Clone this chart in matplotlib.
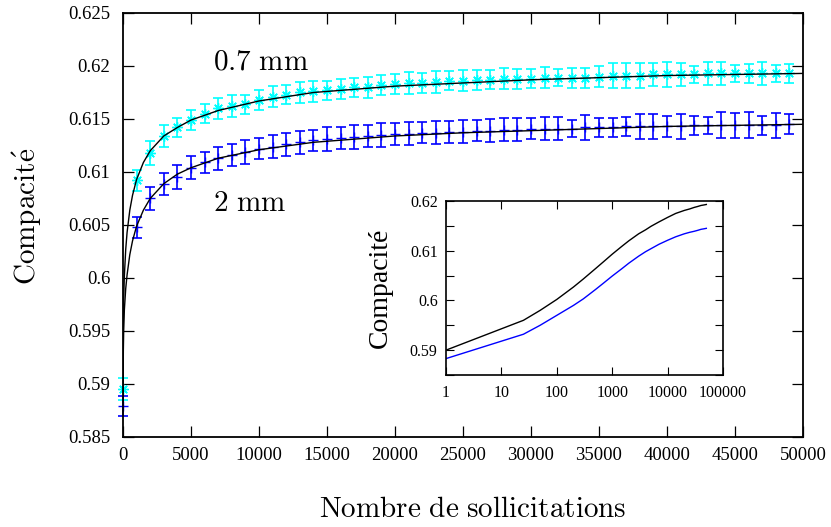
import numpy as np
import matplotlib
matplotlib.use('Agg')
import matplotlib.pyplot as plt
from matplotlib.ticker import FixedLocator, FuncFormatter, LogLocator, NullFormatter

plt.rcParams['font.family'] = ['Liberation Serif', 'DejaVu Serif']
plt.rcParams['mathtext.fontset'] = 'cm'

# Mesures (compacité moyenne + barres d'erreur), un point tous les 1000 cycles
cycles = np.arange(0, 50000, 1000)

comp_07 = [0.5895, 0.6092, 0.6118, 0.6134, 0.6142, 0.6149, 0.6155, 0.6160, 0.6162, 0.6164,
           0.6168, 0.6171, 0.6173, 0.6175, 0.6176, 0.6177, 0.6178, 0.6180, 0.6180, 0.6182,
           0.6183, 0.6184, 0.6184, 0.6185, 0.6186, 0.6186, 0.6187, 0.6187, 0.6188, 0.6188,
           0.6188, 0.6189, 0.6189, 0.6189, 0.6189, 0.6190, 0.6191, 0.6191, 0.6191, 0.6192,
           0.6192, 0.6192, 0.6192, 0.6193, 0.6193, 0.6193, 0.6193, 0.6193, 0.6193, 0.6193]
err_07 = [0.00105, 0.00100, 0.00110, 0.00100, 0.00090, 0.00095, 0.00090, 0.00100, 0.00105, 0.00090,
          0.00095, 0.00100, 0.00090, 0.00095, 0.00100, 0.00090, 0.00095, 0.00090, 0.00100, 0.00095,
          0.00090, 0.00100, 0.00095, 0.00105, 0.00090, 0.00100, 0.00095, 0.00090, 0.00100, 0.00095,
          0.00090, 0.00100, 0.00082, 0.00094, 0.00094, 0.00101, 0.00115, 0.00118, 0.00115, 0.00106,
          0.00118, 0.00104, 0.00082, 0.00107, 0.00110, 0.00082, 0.00087, 0.00106, 0.00083, 0.00087]

comp_2 = [0.5879, 0.6048, 0.6075, 0.6089, 0.6095, 0.6104, 0.6109, 0.6113, 0.6116, 0.6119,
          0.6122, 0.6124, 0.6126, 0.6128, 0.6130, 0.6131, 0.6132, 0.6133, 0.6134, 0.6135,
          0.6136, 0.6136, 0.6137, 0.6137, 0.6138, 0.6138, 0.6139, 0.6139, 0.6140, 0.6140,
          0.6141, 0.6141, 0.6141, 0.6141, 0.6142, 0.6142, 0.6142, 0.6143, 0.6143, 0.6143,
          0.6143, 0.6143, 0.6144, 0.6144, 0.6144, 0.6144, 0.6144, 0.6144, 0.6144, 0.6145]
err_2 = [0.00095, 0.00100, 0.00110, 0.00105, 0.00115, 0.00110, 0.00100, 0.00110, 0.00105, 0.00110,
         0.00100, 0.00110, 0.00105, 0.00110, 0.00100, 0.00110, 0.00105, 0.00110, 0.00100, 0.00115,
         0.00105, 0.00110, 0.00100, 0.00110, 0.00105, 0.00110, 0.00100, 0.00110, 0.00105, 0.00110,
         0.00100, 0.00105, 0.00110, 0.00083, 0.00115, 0.00094, 0.00090, 0.00090, 0.00121, 0.00116,
         0.00097, 0.00116, 0.00087, 0.00080, 0.00123, 0.00115, 0.00123, 0.00087, 0.00115, 0.00094]

# Courbes d'ajustement
fit_x = [1, 25, 50, 100, 200, 300, 500, 700, 1000, 1500, 2000, 3000, 4000, 5000, 7000,
         10000, 14000, 20000, 25000, 30000, 35000, 40000, 45000, 50000]
fit_07 = [0.5900, 0.5960, 0.5980, 0.6002, 0.6027, 0.6043, 0.6064, 0.6078, 0.6093, 0.6109,
          0.6120, 0.6134, 0.6142, 0.6149, 0.6158, 0.6167, 0.6175, 0.6181, 0.6184, 0.6187,
          0.6189, 0.6191, 0.6192, 0.6193]
fit_2 = [0.5883, 0.5932, 0.5950, 0.5970, 0.5990, 0.6003, 0.6022, 0.6035, 0.6049, 0.6064,
         0.6075, 0.6089, 0.6098, 0.6104, 0.6113, 0.6121, 0.6128, 0.6134, 0.6137, 0.6139,
         0.6141, 0.6143, 0.6144, 0.6145]

fig = plt.figure(figsize=(8.31, 5.27), dpi=100)
ax = fig.add_axes([123/831, 1-437/527, 680/831, 424/527])

ax.errorbar(cycles, comp_07, yerr=err_07, fmt='none', ecolor='#00ffff',
            elinewidth=1.2, capsize=3.3, capthick=1.2, clip_on=False)
ax.plot(cycles, comp_07, ls='none', marker=(8, 2, 0), ms=7.5, mew=1.0,
        color='#00ffff', clip_on=False)
ax.errorbar(cycles, comp_2, yerr=err_2, fmt='none', ecolor='#0000ff',
            elinewidth=1.2, capsize=3.3, capthick=1.2, clip_on=False)
ax.plot(cycles, comp_2, ls='none', marker='+', ms=7, mew=1.0,
        color='#0000ff', clip_on=False)
ax.plot(fit_x, fit_07, color='black', lw=1.0)
ax.plot(fit_x, fit_2, color='black', lw=1.0)

ax.set_xlim(0, 50000)
ax.set_ylim(0.585, 0.625)
ax.xaxis.set_major_locator(FixedLocator(np.arange(0, 50001, 5000)))
ax.yaxis.set_major_locator(FixedLocator(np.arange(0.585, 0.6251, 0.005)))
ax.yaxis.set_major_formatter(FuncFormatter(lambda v, p: f'{v:.3f}'.rstrip('0').rstrip('.')))
ax.xaxis.set_major_formatter(FuncFormatter(lambda v, p: f'{v:g}'))
ax.tick_params(direction='in', length=8, width=0.9, top=True, right=True, labelsize=13.5)
ax.tick_params(axis='x', pad=7)
ax.tick_params(axis='y', pad=9)
for s in ax.spines.values():
    s.set_linewidth(1.3)

ax.text(6600, 0.6203, r'$0.7\ \mathrm{mm}$', fontsize=21, va='center')
ax.text(6600, 0.6070, r'$2\ \mathrm{mm}$', fontsize=21, va='center')

fig.text(473/831, 1-510/527, r'$\mathrm{Nombre\ de\ sollicitations}$', fontsize=21,
         ha='center', va='center')
fig.text(27/831, 1-216/527, r'$\mathrm{Compacit\acute{e}}$', fontsize=21,
         ha='center', va='center', rotation=90)

# Encart en échelle log
ins = fig.add_axes([446/831, 1-375/527, 277/831, 174/527])
ins.plot(fit_x, fit_07, color='black', lw=1.0)
ins.plot(fit_x, fit_2, color='#0000ff', lw=1.0)
ins.set_xscale('log')
ins.set_xlim(1, 100000)
ins.set_ylim(0.585, 0.62)
ins.xaxis.set_major_locator(FixedLocator([1, 10, 100, 1000, 10000, 100000]))
ins.xaxis.set_major_formatter(FuncFormatter(lambda v, p: f'{v:g}' if v < 1e5 else '100000'))
ins.xaxis.set_minor_locator(LogLocator(base=10, subs=(2, 5, 8)))
ins.xaxis.set_minor_formatter(NullFormatter())
ins.yaxis.set_major_locator(FixedLocator([0.59, 0.60, 0.61, 0.62]))
ins.yaxis.set_minor_locator(FixedLocator([0.585, 0.595, 0.605, 0.615]))
ins.yaxis.set_major_formatter(FuncFormatter(lambda v, p: f'{v:.2f}'.rstrip('0').rstrip('.')))
ins.tick_params(which='both', direction='in', top=True, right=True, width=0.8, labelsize=11.5)
ins.tick_params(which='major', length=6)
ins.tick_params(which='minor', length=4)
ins.tick_params(axis='y', which='minor', length=6)
ins.tick_params(axis='x', pad=7)
ins.tick_params(axis='y', pad=6)
for s in ins.spines.values():
    s.set_linewidth(1.2)
ins.set_ylabel('Compacité', fontsize=20, labelpad=12)

fig.savefig('out.png', dpi=100)
